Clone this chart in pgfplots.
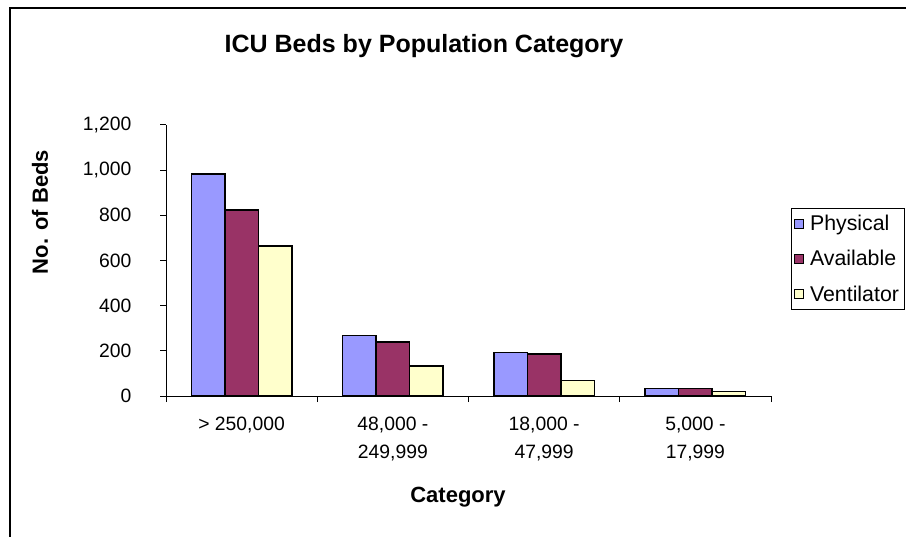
\documentclass[border=0pt]{standalone}
\usepackage{pgfplots}
\pgfplotsset{compat=1.18}
\usepackage{fontspec}
\setmainfont{Liberation Sans}
\definecolor{phys}{HTML}{9999FF}
\definecolor{avail}{HTML}{993366}
\definecolor{vent}{HTML}{FFFFCC}
\begin{document}
\begin{tikzpicture}[x=0.75pt,y=0.75pt]
\clip (0,0) rectangle (906,536);
\fill[white] (0,0) rectangle (906,536);
\draw[line width=1.5pt] (10,-20) rectangle (930,528);
\node[font=\fontsize{18.75}{22}\selectfont\bfseries] at (424,490) {ICU Beds by Population Category};
\node[rotate=90,font=\fontsize{16.5}{20}\selectfont\bfseries] at (40,324) {No. of Beds};
\node[font=\fontsize{16.5}{20}\selectfont\bfseries] at (458,39) {Category};
\begin{axis}[
  at={(124.5pt,105pt)}, anchor=south west,
  scale only axis, width=453.75pt, height=203.25pt,
  ybar=0pt, bar width=25.125pt,
  xmin=-0.5, xmax=3.5, ymin=0, ymax=1200,
  axis lines=left,
  x axis line style={-}, y axis line style={-},
  axis line style={line width=0.75pt},
  tick align=outside,
  major tick length=4.5pt, minor tick length=4.5pt,
  ytick={0,200,...,1200},
  xtick={0,1,2,3},
  xticklabels={{> 250,000},{48,000 -\\249,999},{18,000 -\\47,999},{5,000 -\\17,999}},
  minor xtick={-0.5,0.5,1.5,2.5,3.5},
  major x tick style={draw=none},
  minor x tick style={black,line width=0.75pt},
  major y tick style={black,line width=0.75pt},
  /pgf/number format/assume math mode=true,
  /pgf/number format/1000 sep={,},
  yticklabel style={font=\fontsize{14.5}{17}\selectfont, xshift=-18pt},
  xticklabel style={font=\fontsize{14.5}{21}\selectfont, align=center, yshift=-8pt},
  every axis plot/.append style={draw=black, line width=1.1pt},
  legend style={at={(1.033,0.695)}, anchor=north west, draw=black, line width=0.75pt,
    font=\fontsize{16}{19}\selectfont, row sep=9.5pt, inner xsep=2pt, inner ysep=3pt},
  legend cell align=left,
  legend image code/.code={\draw[#1, line width=0.75pt] (0pt,-3.4pt) rectangle (6.8pt,3.4pt); \path (9pt,0pt);},
]
\addplot[fill=phys] coordinates {(0,983) (1,267) (2,192) (3,34)};
\addplot[fill=avail] coordinates {(0,824) (1,240) (2,185) (3,34)};
\addplot[fill=vent] coordinates {(0,665) (1,133) (2,68) (3,19)};
\legend{Physical,Available,Ventilator}
\end{axis}
\end{tikzpicture}
\end{document}
